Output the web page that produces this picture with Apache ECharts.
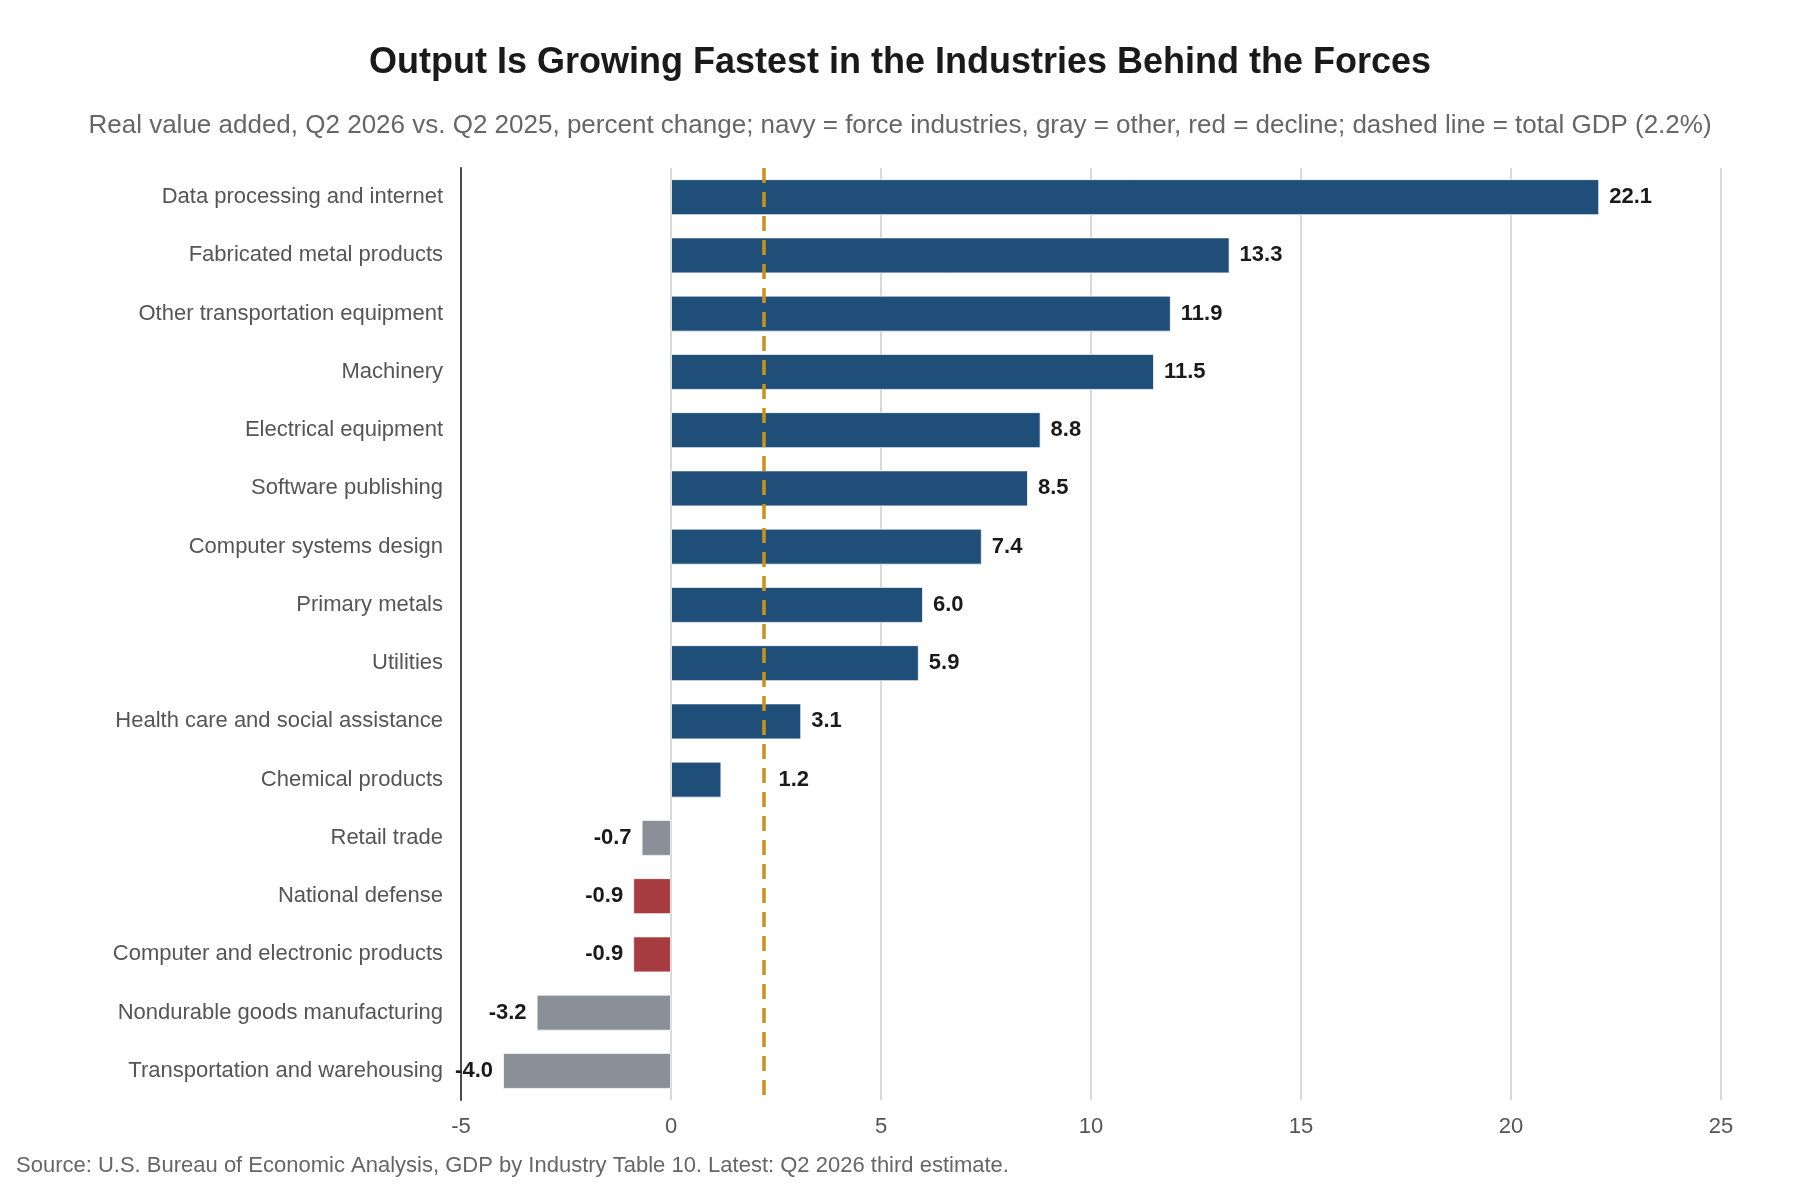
<!DOCTYPE html>
<html>
<head>
<meta charset="utf-8">
<title>Output by industry</title>
<script src="https://cdn.jsdelivr.net/npm/echarts@6/dist/echarts.min.js"></script>
<style>
  html, body { margin: 0; padding: 0; background: #fff; }
  #chart { width: 1800px; height: 1200px; }
</style>
</head>
<body>
<div id="chart"></div>
<script>
// data, top to bottom
var industries = [
  'Data processing and internet',
  'Fabricated metal products',
  'Other transportation equipment',
  'Machinery',
  'Electrical equipment',
  'Software publishing',
  'Computer systems design',
  'Primary metals',
  'Utilities',
  'Health care and social assistance',
  'Chemical products',
  'Retail trade',
  'National defense',
  'Computer and electronic products',
  'Nondurable goods manufacturing',
  'Transportation and warehousing'
];
var growth = [22.1, 13.3, 11.9, 11.5, 8.8, 8.5, 7.4, 6.0, 5.9, 3.1, 1.2, -0.7, -0.9, -0.9, -3.2, -4.0];
// 'force' = industries behind the forces, 'other' = everything else
var group = ['force', 'force', 'force', 'force', 'force', 'force', 'force', 'force', 'force', 'force', 'force',
  'other', 'force', 'force', 'other', 'other'];
var totalGdp = 2.2;
var xTicks = [-5, 0, 5, 10, 15, 20, 25];

var NAVY = '#1f4e79';
var GRAY = '#8a9098';
var RED = '#a63c40';
var GOLD = '#c9921a';

var chart = echarts.init(document.getElementById('chart'));

// build bar items from the arrays
var barData = growth.map(function (v, i) {
  var color = group[i] === 'other' ? GRAY : (v < 0 ? RED : NAVY);
  var item = {
    value: v,
    itemStyle: { color: color },
    label: { position: v < 0 ? 'left' : 'right' }
  };
  // push small positive labels past the GDP line
  if (v > 0 && v < totalGdp) item.label.offset = [47, 0];
  return item;
});

var option = {
  backgroundColor: '#ffffff',
  textStyle: { fontFamily: 'Liberation Sans, Arial, sans-serif' },
  title: [
    {
      text: 'Output Is Growing Fastest in the Industries Behind the Forces',
      left: 'center',
      top: 45,
      padding: 0,
      textStyle: { fontSize: 36, fontWeight: 'bold', color: '#1a1a1a' }
    },
    {
      text: 'Real value added, Q2 2026 vs. Q2 2025, percent change; navy = force industries, gray = other, red = decline; dashed line = total GDP (2.2%)',
      left: 'center',
      top: 113,
      padding: 0,
      textStyle: { fontSize: 26, fontWeight: 'normal', color: '#666666' }
    },
    {
      text: 'Source: U.S. Bureau of Economic Analysis, GDP by Industry Table 10. Latest: Q2 2026 third estimate.',
      left: 16,
      top: 1155,
      padding: 0,
      textStyle: { fontSize: 22, fontWeight: 'normal', color: '#666666' }
    }
  ],
  grid: { left: 461, right: 79, top: 168, bottom: 100 },
  xAxis: {
    type: 'value',
    min: xTicks[0],
    max: xTicks[xTicks.length - 1],
    interval: 5,
    axisLine: { show: false },
    axisTick: { show: false },
    axisLabel: { fontSize: 22, color: '#555555', margin: 16 },
    splitLine: { lineStyle: { color: '#d9d9d9', width: 2 } }
  },
  yAxis: {
    type: 'category',
    data: industries,
    inverse: true,
    axisLine: { show: true, onZero: false, lineStyle: { color: '#4a4a55', width: 2 } },
    axisTick: { show: false },
    axisLabel: { fontSize: 22, color: '#555555', margin: 18 },
    splitLine: { show: false }
  },
  series: [{
    type: 'bar',
    data: barData,
    barWidth: 36,
    itemStyle: { borderColor: 'rgba(255,255,255,0.7)', borderWidth: 1 },
    label: {
      show: true,
      distance: 10,
      fontSize: 22,
      fontWeight: 'bold',
      color: '#1a1a1a',
      formatter: function (p) { return p.value.toFixed(1); }
    },
    markLine: {
      silent: true,
      symbol: ['none', 'none'],
      label: { show: false },
      lineStyle: { color: GOLD, width: 3.5, type: [15, 9] },
      data: [{ xAxis: totalGdp }]
    }
  }]
};

chart.setOption(option);
</script>
</body>
</html>
